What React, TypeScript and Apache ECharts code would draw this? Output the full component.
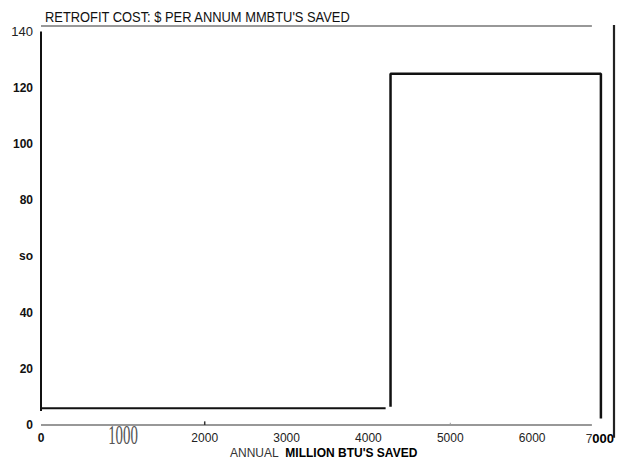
import React, { useEffect, useRef } from "react";
import * as echarts from "echarts";

// Tick values
const xTicks = [0, 1000, 2000, 3000, 4000, 5000, 6000, 7000];
const yTicks = [0, 20, 40, 60, 80, 100, 120, 140];
// Y tick label text as printed (scan shows "so" for 60)
const yTickText: Record<number, string> = { 0: "0", 20: "20", 40: "40", 60: "so", 80: "80", 100: "100", 120: "120", 140: "140" };

// Frame and step lines: [annual million BTU saved, $ per annum MMBTU saved]
const topFrame = [[0, 142], [6730, 142]];
const baseLine = [[0, 0], [6730, 0]];
const leftFrame = [[0, 140], [0, 5]];
const lowStep = [[0, 6], [4210, 6]];
const highStep = [[4270, 6.5], [4270, 125], [6840, 125], [6840, 2.3]];
const rightEdge = [[7000, 142.4], [7000, -4.5]];
const tickMark2000 = [[2000, 0], [2000, 1.3]];
const tickMark5000 = [[5000, 0], [5000, 0.8]];

const title = "RETROFIT COST: $ PER ANNUM MMBTU'S SAVED";
const xNameA = "ANNUAL";
const xNameB = "MILLION BTU'S SAVED";

const FONT = "'Liberation Sans', Arial, sans-serif";

export default function App() {
  const ref = useRef<HTMLDivElement>(null);
  useEffect(() => {
    const chart = echarts.init(ref.current!, null, { renderer: "svg" });
    const lineSeries = (data: number[][], width: number, color = "#111") => ({
      type: "line",
      data,
      symbol: "none",
      clip: false,
      silent: true,
      lineStyle: { color, width },
    });
    chart.setOption({
      animation: false,
      backgroundColor: "#ffffff",
      grid: { left: 41, right: 2, top: 26, bottom: 36 },
      xAxis: {
        type: "value",
        min: 0,
        max: 7000,
        interval: 1000,
        axisLine: { show: false },
        axisTick: { show: false },
        splitLine: { show: false },
        axisLabel: {
          margin: 7,
          alignMaxLabel: "right",
          fontFamily: FONT,
          fontSize: 12,
          color: "#222",
          formatter: (v: number) => {
            if (!xTicks.includes(v)) return "";
            if (v === 0) return "{b|0}";
            if (v === 1000) return "";
            if (v === 7000) return "{n|7}{b7|000}";
            return String(v);
          },
          rich: {
            b: { fontWeight: "bold", fontSize: 12, fontFamily: FONT, color: "#111" },
            n: { fontFamily: FONT, fontSize: 12, color: "#333" },
            b7: { fontWeight: "bold", fontSize: 13, fontFamily: FONT, color: "#000" },
          },
        },
      },
      yAxis: {
        type: "value",
        min: 0,
        max: 142,
        interval: 20,
        axisLine: { show: false },
        axisTick: { show: false },
        splitLine: { show: false },
        axisLabel: {
          margin: 8,
          showMaxLabel: false,
          fontFamily: FONT,
          fontSize: 12,
          fontWeight: "bold",
          color: "#111",
          formatter: (v: number) => {
            if (!yTicks.includes(v)) return "";
            if (v === 140) return "{n|140}";
            return yTickText[v];
          },
          rich: {
            n: { fontWeight: "normal", fontSize: 13, fontFamily: FONT, color: "#222" },
          },
        },
      },
      series: [
        lineSeries(topFrame, 1.2, "#333"),
        lineSeries(baseLine, 1.2, "#333"),
        lineSeries(leftFrame, 2),
        lineSeries(lowStep, 2),
        lineSeries(highStep, 2.5),
        lineSeries(rightEdge, 2.2, "#222"),
        lineSeries(tickMark2000, 1.5, "#333"),
        lineSeries(tickMark5000, 1, "#999"),
      ],
      graphic: [
        {
          type: "text",
          x: 45,
          y: 17,
          scaleX: 0.86,
          style: {
            text: title,
            fontFamily: FONT,
            fontSize: 15,
            fill: "#111",
            verticalAlign: "middle",
          },
        },
        {
          type: "text",
          x: 123,
          y: 435,
          scaleX: 0.62,
          scaleY: 1.1,
          style: {
            text: "1000",
            fontFamily: "'Liberation Serif', serif",
            fontSize: 24,
            fill: "#555",
            align: "center",
            verticalAlign: "middle",
          },
        },
        {
          type: "text",
          left: 230,
          top: 447,
          style: {
            text: "{a|" + xNameA + "}  {b|" + xNameB + "}",
            rich: {
              a: { fontFamily: FONT, fontSize: 12, fill: "#333" },
              b: { fontFamily: FONT, fontSize: 12, fontWeight: "bold", fill: "#000" },
            },
          },
        },
      ],
    });
    return () => chart.dispose();
  }, []);
  return <div ref={ref} style={{ width: 617, height: 461, position: "absolute", left: 0, top: 0 }} />;
}
